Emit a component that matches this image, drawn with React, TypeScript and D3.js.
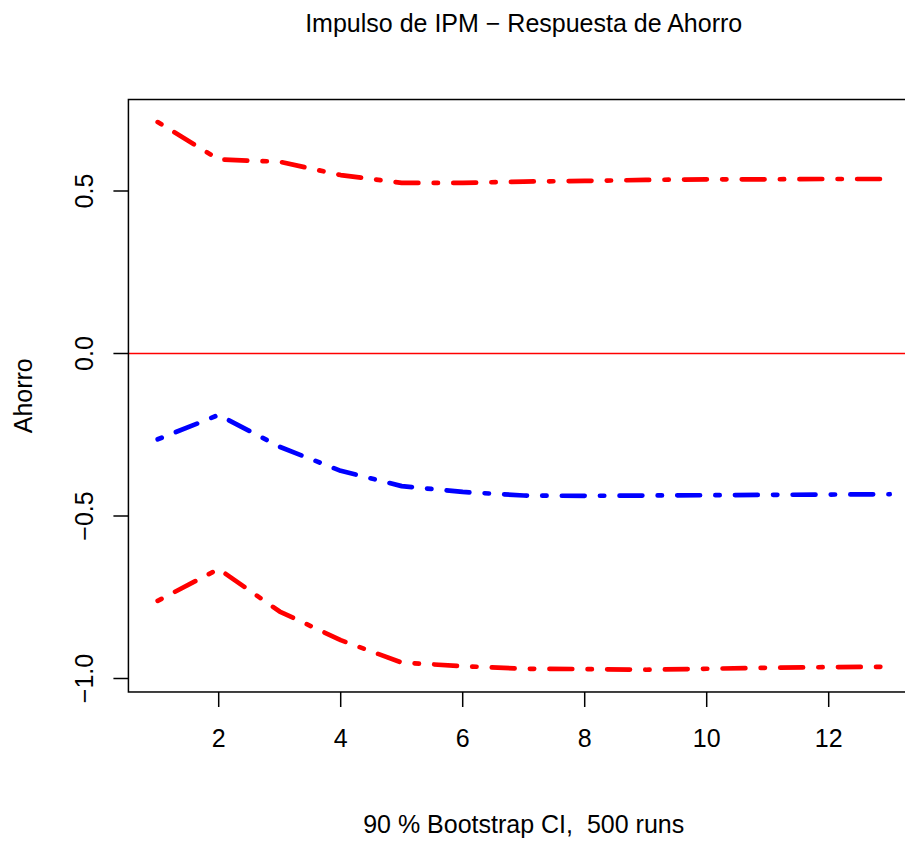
import React from "react";
import * as d3 from "d3";

const horizons = [1, 2, 3, 4, 5, 6, 7, 8, 9, 10, 11, 12, 13];
const irf = [-0.264, -0.189, -0.287, -0.361, -0.408, -0.426, -0.437, -0.438, -0.437, -0.436, -0.435, -0.434, -0.433];
const upper = [0.712, 0.597, 0.59, 0.549, 0.525, 0.525, 0.529, 0.531, 0.534, 0.536, 0.536, 0.537, 0.537];
const lower = [-0.761, -0.663, -0.794, -0.882, -0.951, -0.962, -0.97, -0.971, -0.973, -0.97, -0.967, -0.965, -0.964];
const xTicks = [2, 4, 6, 8, 10, 12];
const yTicks = [-1.0, -0.5, 0.0, 0.5];

const titleText = "Impulso de IPM \u2212 Respuesta de Ahorro";
const yLabel = "Ahorro";
const xLabel = "90 % Bootstrap CI,  500 runs";

const W = 905;
const H = 843;
const FONT = "'Liberation Sans', Arial, Helvetica, sans-serif";

export default function App() {
  const x = d3.scaleLinear().domain([1, 13]).range([157.7, 889.7]);
  const y = d3.scaleLinear().domain([-1, 0.5]).range([678.5, 191]);
  const left = x(0.52);
  const right = x(13.48);
  const top = y(0.7815);
  const bottom = y(-1.0415);

  const line = d3
    .line<number>()
    .x((_, i) => x(horizons[i]))
    .y((d) => y(d));

  const dash = "4.3 15.3 22.8 15.3";
  const fmt = (v: number) => (v < 0 ? "\u2212" : "") + Math.abs(v).toFixed(1);

  return (
    <div style={{ position: "absolute", left: 0, top: 0 }}>
      <svg width={W} height={H} style={{ display: "block", background: "#fff" }}>
        <rect x={0} y={0} width={W} height={H} fill="#fff" />
        <defs>
          <clipPath id="plotclip">
            <rect x={left} y={top} width={right - left} height={bottom - top} />
          </clipPath>
        </defs>
        <g clipPath="url(#plotclip)">
          <line x1={left} x2={right} y1={y(0)} y2={y(0)} stroke="#ff0000" strokeWidth={1.3} />
          <path d={line(upper) || ""} fill="none" stroke="#ff0000" strokeWidth={4.7} strokeDasharray={dash} strokeLinecap="round" strokeLinejoin="round" />
          <path d={line(lower) || ""} fill="none" stroke="#ff0000" strokeWidth={4.7} strokeDasharray={dash} strokeLinecap="round" strokeLinejoin="round" />
          <path d={line(irf) || ""} fill="none" stroke="#0000ff" strokeWidth={4.7} strokeDasharray={dash} strokeLinecap="round" strokeLinejoin="round" />
        </g>
        <rect x={left} y={top} width={right - left} height={bottom - top} fill="none" stroke="#000" strokeWidth={1.5} />
        {xTicks.map((t) => (
          <g key={"x" + t}>
            <line x1={x(t)} x2={x(t)} y1={bottom} y2={bottom + 15} stroke="#000" strokeWidth={1.5} />
            <text x={x(t)} y={747} textAnchor="middle" fontFamily={FONT} fontSize={25} fill="#000">
              {t}
            </text>
          </g>
        ))}
        {yTicks.map((t) => (
          <g key={"y" + t}>
            <line x1={left - 15} x2={left} y1={y(t)} y2={y(t)} stroke="#000" strokeWidth={1.5} />
            <text
              transform={`translate(${92.7},${y(t)}) rotate(-90)`}
              textAnchor="middle"
              fontFamily={FONT}
              fontSize={25}
              fill="#000"
            >
              {fmt(t)}
            </text>
          </g>
        ))}
        <text x={(left + right) / 2} y={32} textAnchor="middle" fontFamily={FONT} fontSize={25} fill="#000">
          {titleText}
        </text>
        <text x={(left + right) / 2} y={833} textAnchor="middle" fontFamily={FONT} fontSize={25} fill="#000" style={{ whiteSpace: "pre" }}>
          {xLabel}
        </text>
        <text
          transform={`translate(${32},${(top + bottom) / 2}) rotate(-90)`}
          textAnchor="middle"
          fontFamily={FONT}
          fontSize={25}
          fill="#000"
        >
          {yLabel}
        </text>
      </svg>
    </div>
  );
}
